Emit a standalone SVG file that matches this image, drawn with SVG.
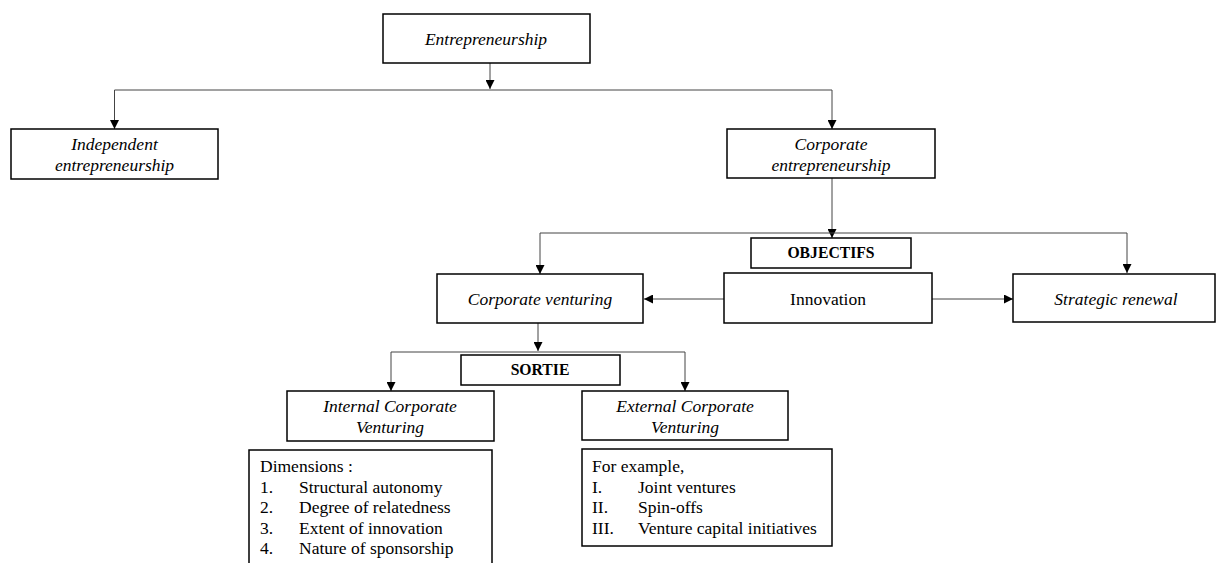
<svg xmlns="http://www.w3.org/2000/svg" width="1217" height="563" viewBox="0 0 1217 563">
<defs>
<marker id="ah" viewBox="0 0 10 10" refX="10" refY="5" markerWidth="9" markerHeight="9" markerUnits="userSpaceOnUse" orient="auto">
<path d="M0,0 L10,5 L0,10 z" fill="#000"/>
</marker>
<style>
.box{fill:#fff;stroke:#000;stroke-width:1.5}
.t{font-family:"Liberation Serif","Times New Roman",serif;font-size:17.5px;fill:#000}
.i{font-style:italic}
.c{text-anchor:middle}
.b{font-weight:bold;font-size:15.7px}
.ln{fill:none;stroke:#444;stroke-width:1}
</style>
</defs>
<rect width="1217" height="563" fill="#fff"/>
<g id="connectors">
<line class="ln" x1="490" y1="63" x2="490" y2="89" marker-end="url(#ah)"/>
<polyline class="ln" points="114.5,129 114.5,90 832,90 832,129" marker-end="url(#ah)"/>
<line class="ln" x1="114.5" y1="90" x2="114.5" y2="129" marker-end="url(#ah)"/>
<line class="ln" x1="832" y1="178" x2="832" y2="238" marker-end="url(#ah)"/>
<polyline class="ln" points="540,233 1127,233 1127,273" marker-end="url(#ah)"/>
<line class="ln" x1="540" y1="233" x2="540" y2="274" marker-end="url(#ah)"/>
<line class="ln" x1="724" y1="299" x2="644" y2="299" marker-end="url(#ah)"/>
<line class="ln" x1="932" y1="299" x2="1013" y2="299" marker-end="url(#ah)"/>
<line class="ln" x1="538" y1="323" x2="538" y2="351" marker-end="url(#ah)"/>
<polyline class="ln" points="391,352 685,352 685,391" marker-end="url(#ah)"/>
<line class="ln" x1="391" y1="352" x2="391" y2="391" marker-end="url(#ah)"/>
</g>
<g id="entrepreneurship">
<rect class="box" x="383" y="14" width="207" height="49"/>
<text class="t i c" x="486" y="45">Entrepreneurship</text>
</g>
<g id="independent">
<rect class="box" x="11" y="129" width="207" height="50"/>
<text class="t i c" x="114.5" y="150">Independent</text>
<text class="t i c" x="114.5" y="171">entrepreneurship</text>
</g>
<g id="corporate-entrepreneurship">
<rect class="box" x="727" y="129" width="208" height="49"/>
<text class="t i c" x="831" y="150">Corporate</text>
<text class="t i c" x="831" y="171">entrepreneurship</text>
</g>
<g id="objectifs">
<rect class="box" x="751" y="238" width="160" height="30"/>
<text class="t b c" x="831" y="258">OBJECTIFS</text>
</g>
<g id="corporate-venturing">
<rect class="box" x="437" y="274" width="206" height="49"/>
<text class="t i c" x="540" y="305">Corporate venturing</text>
</g>
<g id="innovation">
<rect class="box" x="724" y="273" width="208" height="50"/>
<text class="t c" x="828" y="305">Innovation</text>
</g>
<g id="strategic-renewal">
<rect class="box" x="1013" y="274" width="202" height="48"/>
<text class="t i c" x="1116" y="305">Strategic renewal</text>
</g>
<g id="sortie">
<rect class="box" x="461" y="355" width="159" height="30"/>
<text class="t b c" x="540" y="375">SORTIE</text>
</g>
<g id="internal">
<rect class="box" x="287" y="391" width="207" height="50"/>
<text class="t i c" x="390" y="412">Internal Corporate</text>
<text class="t i c" x="390" y="433">Venturing</text>
</g>
<g id="external">
<rect class="box" x="582" y="391" width="206" height="49"/>
<text class="t i c" x="685" y="412">External Corporate</text>
<text class="t i c" x="685" y="433">Venturing</text>
</g>
<g id="dimensions">
<rect class="box" x="249" y="450" width="243" height="130"/>
<text class="t" x="260" y="472">Dimensions :</text>
<text class="t" x="260" y="492.5">1.</text><text class="t" x="299" y="492.5">Structural autonomy</text>
<text class="t" x="260" y="513">2.</text><text class="t" x="299" y="513">Degree of relatedness</text>
<text class="t" x="260" y="533.5">3.</text><text class="t" x="299" y="533.5">Extent of innovation</text>
<text class="t" x="260" y="554">4.</text><text class="t" x="299" y="554">Nature of sponsorship</text>
</g>
<g id="examples">
<rect class="box" x="582" y="449" width="250" height="97"/>
<text class="t" x="592" y="472">For example,</text>
<text class="t" x="592" y="492.5">I.</text><text class="t" x="638" y="492.5">Joint ventures</text>
<text class="t" x="592" y="513">II.</text><text class="t" x="638" y="513">Spin-offs</text>
<text class="t" x="592" y="533.5">III.</text><text class="t" x="638" y="533.5">Venture capital initiatives</text>
</g>
</svg>
